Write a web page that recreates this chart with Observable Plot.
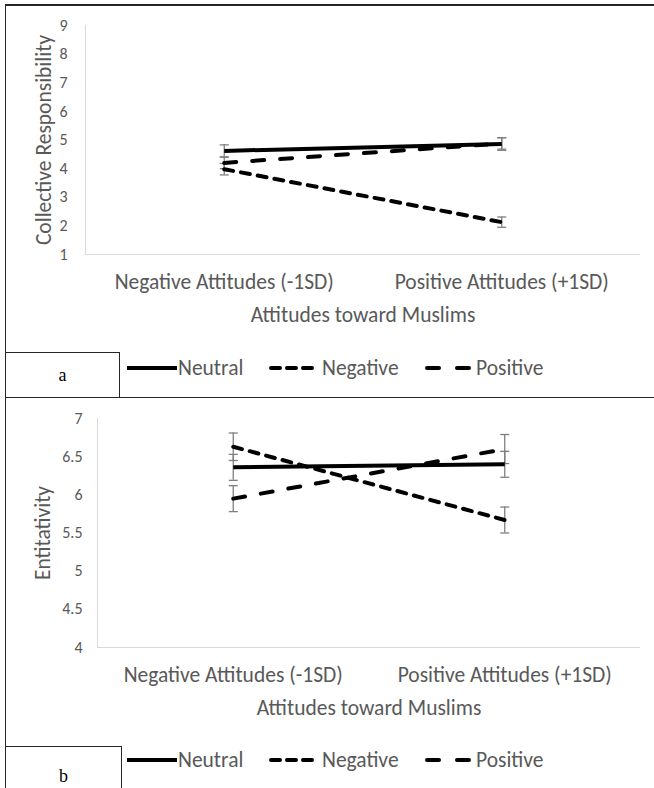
<!DOCTYPE html>
<html><head><meta charset="utf-8">
<script src="https://cdn.jsdelivr.net/npm/d3@7"></script>
<script src="https://cdn.jsdelivr.net/npm/@observablehq/plot@0.6"></script>
<style>
  body{margin:0;background:#fff;width:654px;height:788px;overflow:hidden;position:relative;font-family:Carlito, Lato, sans-serif;}
  .ln{position:absolute;background:#262626;}
  .panel{position:absolute;left:5px;}
  .tag{position:absolute;border:1px solid #262626;background:#fff;font-family:"Liberation Serif",serif;font-size:18px;color:#000;display:flex;align-items:center;justify-content:center;box-sizing:border-box;}
  .leg{position:absolute;height:26px;}
  .leg span{position:absolute;top:0;line-height:26px;font-size:21.5px;color:#595959;white-space:nowrap;}
  .leg svg{position:absolute;top:0;}
</style></head><body>
<script>
// ---- data ----
const categories = ["Negative Attitudes (-1SD)", "Positive Attitudes (+1SD)"];
const groups = ["Neutral", "Negative", "Positive"];
const xTitle = "Attitudes toward Muslims";

// Panel a: Collective Responsibility
const crTitle = "Collective Responsibility";
const crTicks = [1, 2, 3, 4, 5, 6, 7, 8, 9];
const crNeutral = [4.62, 4.86];
const crNeutralSE = [0.21, 0.22];
const crNegative = [3.98, 2.13];
const crNegativeSE = [0.2, 0.18];
const crPositive = [4.2, 4.88];
const crPositiveSE = [0.2, 0.2];

// Panel b: Entitativity
const enTitle = "Entitativity";
const enTicks = [4, 4.5, 5, 5.5, 6, 6.5, 7];
const enNeutral = [6.36, 6.40];
const enNeutralSE = [0.17, 0.17];
const enNegative = [6.63, 5.67];
const enNegativeSE = [0.18, 0.17];
const enPositive = [5.95, 6.60];
const enPositiveSE = [0.17, 0.19];

// ---- styles ----
const dashes = {Neutral: null, Negative: "9,8", Positive: "12,16"};
const textColor = "#595959";
const font = "Carlito, Lato, sans-serif";
const bigFont = 21.5;
const tickFont = 16;

const capSymbol = {
  draw(context, size) {
    const r = Math.sqrt(size / Math.PI);
    context.moveTo(-r, 0);
    context.lineTo(r, 0);
  }
};

function addLine(x, y, w, h) {
  const d = document.createElement("div");
  d.className = "ln";
  Object.assign(d.style, {left: x + "px", top: y + "px", width: w + "px", height: h + "px"});
  document.body.appendChild(d);
}

function makePanel(cfg) {
  const series = [
    {g: "Neutral", v: cfg.neutral, se: cfg.neutralSE},
    {g: "Negative", v: cfg.negative, se: cfg.negativeSE},
    {g: "Positive", v: cfg.positive, se: cfg.positiveSE}
  ];
  const rows = series.flatMap(s => s.v.map((v, i) => ({group: s.g, xi: i, v, lo: v - s.se[i], hi: v + s.se[i]})));
  const ymin = d3.min(cfg.ticks), ymax = d3.max(cfg.ticks);

  const chart = Plot.plot({
    width: 648,
    height: 330,
    marginLeft: cfg.marginLeft,
    marginRight: 13,
    marginTop: cfg.marginTop,
    marginBottom: cfg.marginBottom,
    style: {fontFamily: font, fontSize: bigFont + "px", color: textColor, background: "transparent", overflow: "visible"},
    x: {domain: [-0.5, 1.5], axis: null},
    y: {domain: [ymin, ymax], axis: null},
    marks: [
      Plot.ruleX([-0.5], {stroke: "#d9d9d9", strokeWidth: 1}),
      Plot.ruleY([ymin], {stroke: "#d9d9d9", strokeWidth: 1}),
      Plot.axisY({ticks: cfg.ticks, tickFormat: d => String(d), tickSize: 0, tickPadding: cfg.tickPadding, fontSize: tickFont, label: null, fill: textColor}),
      Plot.axisX({ticks: [0, 1], tickFormat: i => categories[i], tickSize: 0, tickPadding: 19, fontSize: bigFont, label: null, fill: textColor}),
      Plot.text([cfg.title], {frameAnchor: "left", dx: cfg.titleDx, rotate: -90, textAnchor: "middle", lineAnchor: "middle", fontSize: bigFont, fill: textColor}),
      Plot.text([xTitle], {frameAnchor: "bottom", dy: 61, textAnchor: "middle", lineAnchor: "middle", fontSize: bigFont, fill: textColor}),
      Plot.ruleX(rows, {x: "xi", y1: "lo", y2: "hi", stroke: "#7f7f7f", strokeWidth: 1.3}),
      Plot.dot(rows, {x: "xi", y: "lo", symbol: capSymbol, r: 4.5, fill: "none", stroke: "#7f7f7f", strokeWidth: 1.3}),
      Plot.dot(rows, {x: "xi", y: "hi", symbol: capSymbol, r: 4.5, fill: "none", stroke: "#7f7f7f", strokeWidth: 1.3}),
      ...groups.map(g => Plot.line(rows.filter(r => r.group === g), {
        x: "xi", y: "v", stroke: "#000", strokeWidth: 4,
        strokeDasharray: dashes[g], strokeLinecap: dashes[g] ? "round" : "butt"
      }))
    ]
  });
  const wrap = document.createElement("div");
  wrap.className = "panel";
  wrap.style.top = cfg.top + "px";
  wrap.appendChild(chart);
  document.body.appendChild(wrap);

  // legend
  const leg = document.createElement("div");
  leg.className = "leg";
  leg.style.left = "0px";
  leg.style.width = "654px";
  leg.style.top = (cfg.top + 363 - 13) + "px";
  const items = [
    {g: "Neutral", sx: 127, sw: 50, tx: 178},
    {g: "Negative", sx: 269, sw: 46, tx: 322},
    {g: "Positive", sx: 425, sw: 46, tx: 476}
  ];
  items.forEach(it => {
    const svg = d3.create("svg").attr("width", it.sw).attr("height", 26).style("left", it.sx + "px");
    const da = it.g === "Negative" ? "9,7" : it.g === "Positive" ? "12,18" : null;
    svg.append("line").attr("x1", it.g === "Neutral" ? 0 : 2).attr("x2", it.sw - (it.g === "Neutral" ? 0 : 2))
      .attr("y1", 13).attr("y2", 13).attr("stroke", "#000").attr("stroke-width", 4)
      .attr("stroke-dasharray", da).attr("stroke-linecap", da ? "round" : "butt");
    leg.appendChild(svg.node());
    const sp = document.createElement("span");
    sp.textContent = it.g;
    sp.style.left = it.tx + "px";
    leg.appendChild(sp);
  });
  document.body.appendChild(leg);

  const tag = document.createElement("div");
  tag.className = "tag";
  Object.assign(tag.style, {left: "5px", top: cfg.tagTop + "px", width: cfg.tagW + "px", height: cfg.tagH + "px"});
  tag.textContent = cfg.tag;
  document.body.appendChild(tag);
}

makePanel({
  top: 5, marginLeft: 80, marginTop: 20, marginBottom: 81, tickPadding: 18, titleDx: -41,
  ticks: crTicks, title: crTitle,
  neutral: crNeutral, neutralSE: crNeutralSE, negative: crNegative, negativeSE: crNegativeSE,
  positive: crPositive, positiveSE: crPositiveSE,
  tag: "a", tagTop: 352, tagW: 115, tagH: 46
});
makePanel({
  top: 397, marginLeft: 92, marginTop: 21, marginBottom: 80, tickPadding: 15, titleDx: -54,
  ticks: enTicks, title: enTitle,
  neutral: enNeutral, neutralSE: enNeutralSE, negative: enNegative, negativeSE: enNegativeSE,
  positive: enPositive, positiveSE: enPositiveSE,
  tag: "b", tagTop: 746, tagW: 117, tagH: 60
});

// frame lines
addLine(5, 4, 660, 1.6);
addLine(4.5, 4, 1.6, 800);
addLine(5, 396.5, 660, 1.6);
</script>
</body></html>
